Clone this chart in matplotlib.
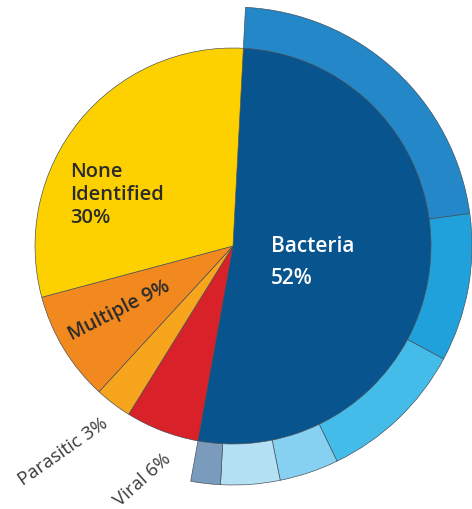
import matplotlib
matplotlib.use("Agg")
import matplotlib.pyplot as plt

# main breakdown of identified causes
causes = ["Bacteria", "Viral", "Parasitic", "Multiple", "None Identified"]
shares = [52, 6, 3, 9, 30]
cause_colors = ["#08548F", "#D82128", "#F7A51D", "#F2891F", "#FDD100"]

# split of the bacteria share shown on the outer ring
bact_parts = [22, 10, 10, 4, 4, 2]
bact_colors = ["#2387C8", "#20A1DC", "#44BCEA", "#86D1F1", "#B4E0F3", "#7A9BBB"]

W, H = 472, 510
cx, cy = 233, 263
r_in, r_out = 198, 239
start = 87

fig = plt.figure(figsize=(W / 100, H / 100), dpi=100)
ax = fig.add_axes([0, 0, 1, 1])

edge = dict(edgecolor="#3f4a55", linewidth=0.45)

ax.pie(shares, colors=cause_colors, startangle=start, counterclock=False,
       radius=r_in, center=(cx, cy), wedgeprops=edge)

# outer ring only covers the bacteria wedge; the rest is left blank
ring_vals = bact_parts + [100 - sum(bact_parts)]
wedges, _ = ax.pie(ring_vals, colors=bact_colors + ["none"], startangle=start,
                   counterclock=False, radius=r_out, center=(cx, cy),
                   wedgeprops=dict(width=r_out - r_in, **edge))
wedges[-1].set_visible(False)

ax.set_xlim(0, W)
ax.set_ylim(0, H)
ax.set_aspect("equal")
ax.axis("off")

fam = ["Open Sans", "DejaVu Sans"]
dark = "#2b2b2b"

ax.text(70, 315, "None\nIdentified\n30%", color=dark, fontsize=14.5,
        ha="left", va="center", linespacing=1.2, family=fam, fontweight=600)
ax.text(271, 263, "Bacteria", color="white", fontsize=15,
        ha="left", va="center", family=fam, fontweight=600)
ax.text(271, 232, "52%", color="white", fontsize=15,
        ha="left", va="center", family=fam, fontweight=600)
ax.text(119, 199, "Multiple 9%", color=dark, fontsize=14, rotation=27,
        ha="center", va="center", family=fam, fontweight=600)
ax.text(63, 58, "Parasitic 3%", color="#3a3a3a", fontsize=13.5, rotation=35,
        ha="center", va="center", family=fam, fontweight=500)
ax.text(143, 30, "Viral 6%", color="#3a3a3a", fontsize=13.5, rotation=42,
        ha="center", va="center", family=fam, fontweight=500)

fig.savefig("out.png", dpi=100)
